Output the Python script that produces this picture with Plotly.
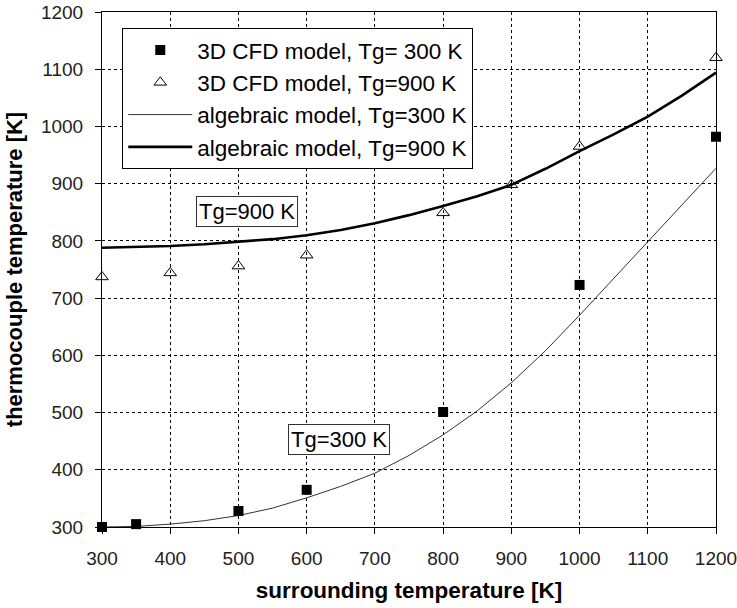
import plotly.graph_objects as go

# --- data ---
x_cfd300 = [300, 350, 500, 600, 800, 1000, 1200]
y_cfd300 = [300, 305, 328, 365, 501, 723, 982]

x_cfd900 = [300, 400, 500, 600, 800, 900, 1000, 1200]
y_cfd900 = [737, 744, 756, 775, 849, 898, 965, 1120]

x_alg = [300, 350, 400, 450, 500, 550, 600, 650, 700, 750, 800, 850, 900, 950, 1000, 1050, 1100, 1150, 1200]
y_alg300 = [300, 301, 305, 311, 320, 333, 351, 371, 394, 425, 461, 503, 552, 608, 670, 734, 798, 862, 927]
y_alg900 = [788, 789, 791, 794, 798, 803, 810, 819, 831, 845, 861, 878, 898, 926, 957, 986, 1017, 1054, 1094]

tick_vals = [300, 400, 500, 600, 700, 800, 900, 1000, 1100, 1200]
x_title = "<b>surrounding temperature [K]</b>"
y_title = "<b>thermocouple temperature [K]</b>"
names = ["3D CFD model, Tg= 300 K", "3D CFD model, Tg=900 K",
         "algebraic model, Tg=300 K", "algebraic model, Tg=900 K"]
labels = [("Tg=900 K", 512, 852), ("Tg=300 K", 648, 453)]

FONT = "Liberation Sans, Arial, sans-serif"

fig = go.Figure()
fig.add_trace(go.Scatter(x=x_alg, y=y_alg300, mode="lines", name=names[2],
                         line=dict(color="#333333", width=1), showlegend=False))
fig.add_trace(go.Scatter(x=x_alg, y=y_alg900, mode="lines", name=names[3],
                         line=dict(color="black", width=2.6), showlegend=False))
fig.add_trace(go.Scatter(x=x_cfd300, y=y_cfd300, mode="markers", name=names[0],
                         marker=dict(symbol="square", size=10, color="black"),
                         cliponaxis=False, legendrank=1))
fig.add_trace(go.Scatter(x=x_cfd900, y=y_cfd900, mode="markers", name=names[1],
                         marker=dict(symbol="triangle-up-open", size=11, color="black",
                                     line=dict(width=1)),
                         cliponaxis=False, legendrank=2))
# legend-only entries for lines (to keep legend order)
fig.add_trace(go.Scatter(x=[None], y=[None], mode="lines", name=names[2],
                         line=dict(color="#333333", width=1), legendrank=3))
fig.add_trace(go.Scatter(x=[None], y=[None], mode="lines", name=names[3],
                         line=dict(color="black", width=2.6), legendrank=4))

for txt, lx, ly in labels:
    fig.add_annotation(x=lx, y=ly, text=txt, showarrow=False,
                       font=dict(family=FONT, size=22, color="black"),
                       bgcolor="white", bordercolor="#333333", borderwidth=1, borderpad=2)

axis_common = dict(
    range=[300, 1200], tickvals=tick_vals, ticks="outside", ticklen=6,
    tickcolor="black", showline=True, linecolor="black", linewidth=1, mirror=True,
    showgrid=True, gridcolor="black", gridwidth=1, griddash="3px,3px",
    zeroline=False, tickfont=dict(family=FONT, size=19, color="#222222"),
    automargin=False, ticklabeloverflow="allow",
)

fig.update_xaxes(**axis_common, ticklabelstandoff=8,
                 title=dict(text=x_title, font=dict(family=FONT, size=22.5, color="black"),
                            standoff=14))
fig.update_yaxes(**axis_common, ticklabelstandoff=8,
                 title=dict(text=y_title, font=dict(family=FONT, size=22, color="black"),
                            standoff=12))

fig.update_layout(
    width=737, height=608,
    margin=dict(l=102, r=21, t=12, b=81),
    plot_bgcolor="white", paper_bgcolor="white",
    font=dict(family=FONT, color="black"),
    legend=dict(x=0.033, y=0.969, xanchor="left", yanchor="top",
                bgcolor="white", bordercolor="black", borderwidth=1,
                font=dict(family=FONT, size=22.5, color="black"),
                itemwidth=64, tracegroupgap=0),
)

fig.write_html("out.html")
